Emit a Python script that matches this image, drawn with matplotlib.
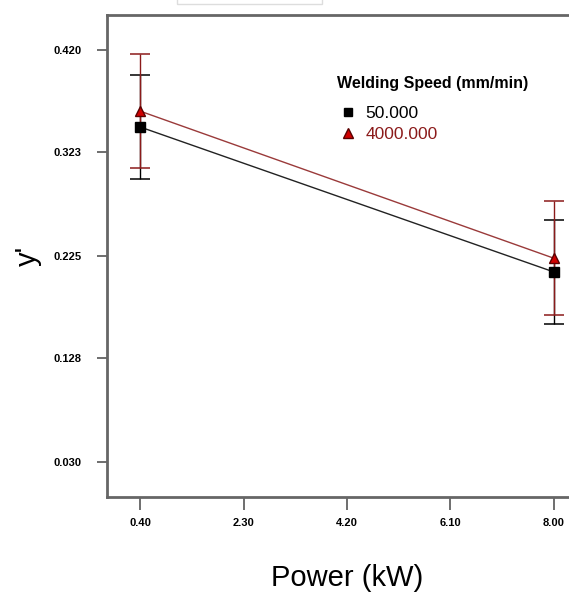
import numpy as np
import matplotlib.pyplot as plt
from matplotlib.lines import Line2D
from matplotlib.patches import Rectangle

plt.rcParams['font.family'] = ['Liberation Sans', 'DejaVu Sans']

# Data
power = [0.40, 8.00]
y_low_speed = [0.347, 0.210]      # 50.000 mm/min
err_low_speed = [0.049, 0.049]
y_high_speed = [0.362, 0.223]     # 4000.000 mm/min
err_high_speed = [0.054, 0.054]

xticks = [0.40, 2.30, 4.20, 6.10, 8.00]
yticks = [0.030, 0.128, 0.225, 0.323, 0.420]
speed_labels = ["50.000", "4000.000"]

fig = plt.figure(figsize=(5.69, 6.09), dpi=100)
ax = fig.add_axes([107 / 569, 112 / 609, 480 / 569, 482 / 609])

dark_red = "#8b1a1a"

# error bars (black caps first, red on top)
ax.errorbar(power, y_low_speed, yerr=err_low_speed, fmt="none",
            ecolor="black", elinewidth=1.0, capsize=7.5, capthick=1.1, zorder=2)
ax.errorbar(power, y_high_speed, yerr=err_high_speed, fmt="none",
            ecolor=dark_red, elinewidth=1.0, capsize=7.5, capthick=1.1, zorder=3)

ax.plot(power, y_low_speed, color="#222222", lw=1.0, zorder=4)
ax.plot(power, y_high_speed, color="#9a3a3a", lw=1.0, zorder=4)
ax.plot(power, y_low_speed, "s", color="black", ms=6.5, zorder=5)
ax.plot(power, y_high_speed, "^", color="#d00000", mec="#5a0000", ms=7.5, zorder=5)

ax.set_xlim(-0.216, 8.616)
ax.set_ylim(-0.0031, 0.4531)
ax.set_xticks(xticks)
ax.set_xticklabels([f"{v:.2f}" for v in xticks])
ax.set_yticks(yticks)
ax.set_yticklabels([f"{v:.3f}" for v in yticks])
ax.tick_params(direction="out", width=1.2, color="#555555", labelsize=8)
ax.tick_params(axis="x", length=9, pad=6)
ax.tick_params(axis="y", length=7.5, pad=11)
for lbl in ax.get_xticklabels() + ax.get_yticklabels():
    lbl.set_fontweight("bold")
for side, sp in ax.spines.items():
    sp.set_color("#666666")
    sp.set_linewidth(2)

ax.set_xlabel("Power (kW)", fontsize=21, labelpad=26)
ax.set_ylabel("y'", fontsize=21, labelpad=8)

# legend: title as its own text, entries below it
ax.text(0.479, 0.857, "Welding Speed (mm/min)", transform=ax.transAxes,
        fontsize=11.5, fontweight="bold", ha="left", va="center")
handles = [
    Line2D([], [], ls="none", marker="s", color="black", ms=6),
    Line2D([], [], ls="none", marker="^", color="#d00000", mec="#5a0000", ms=7),
]
leg = ax.legend(handles, speed_labels, loc="upper left",
                bbox_to_anchor=(0.47, 0.829), frameon=False,
                fontsize=12.5, handlelength=0.8,
                handletextpad=0.6, borderpad=0, labelspacing=0.3)
leg.get_texts()[1].set_color(dark_red)

# faint box peeking in at the top of the image
fig.patches.append(Rectangle((177 / 569, 605 / 609), 145 / 569, 10 / 609,
                             transform=fig.transFigure, fill=False,
                             ec="#dddddd", lw=1))

fig.savefig("out.png", dpi=100)
